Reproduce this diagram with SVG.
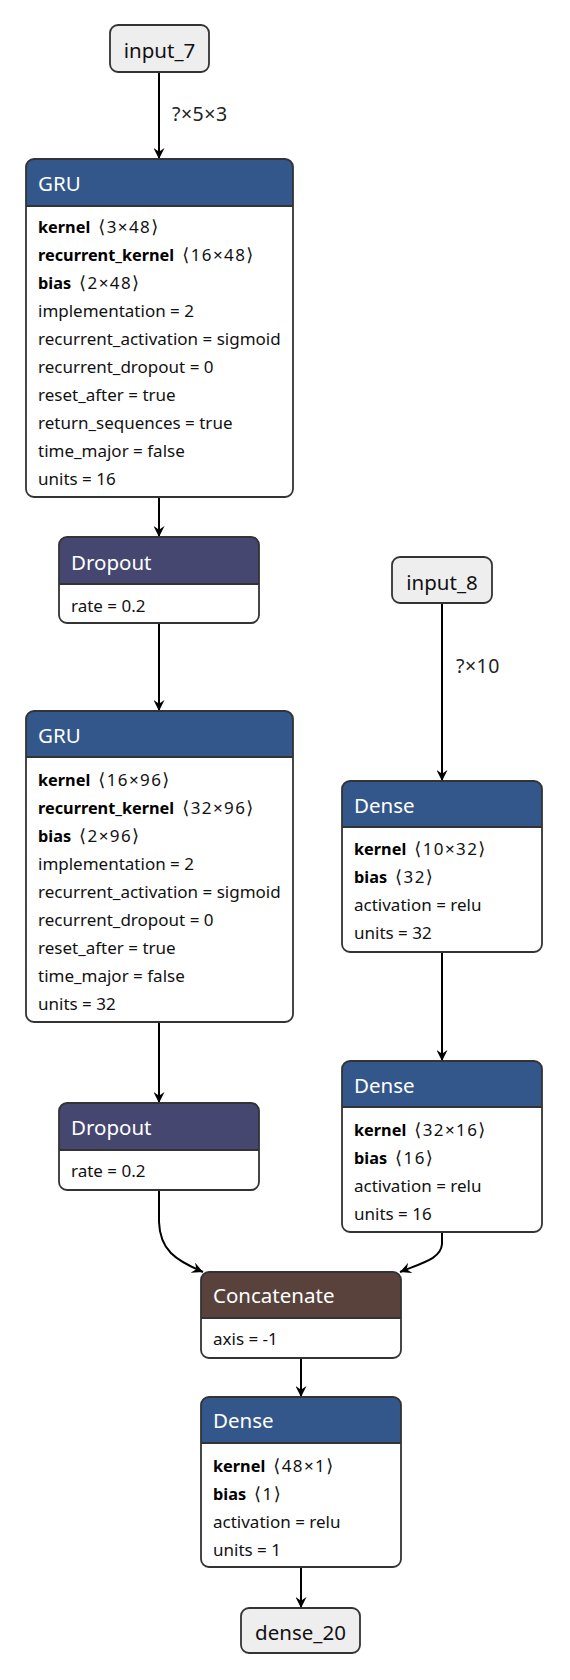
<svg xmlns="http://www.w3.org/2000/svg" width="570" height="1680" viewBox="0 0 570 1680">
<defs>
<marker id="arr" viewBox="0 0 10 10" markerUnits="userSpaceOnUse" markerWidth="11" markerHeight="11" refX="10" refY="5" orient="auto">
<path d="M0,0 L10,5 L0,10 L3.5,5 z" fill="#000"/>
</marker>
</defs>
<style>
text{font-family:"Noto Sans","Open Sans","DejaVu Sans",sans-serif}
.body{fill:#fff;stroke:none}
.outline{fill:none;stroke:#333;stroke-width:1.8}
.sep{stroke:#333;stroke-width:1.8}
.layer{fill:#33578a}
.dropout{fill:#454770}
.tensor{fill:#59423b}
.io{fill:#eeeeee;stroke:#333;stroke-width:1.8}
.title{fill:#fff;font-size:20.5px}
.iolabel{fill:#111;font-size:20.5px;text-anchor:middle}
.attr{fill:#111;font-size:17px}
.attr .n{font-weight:bold;fill:#000;font-size:16.3px}
.attr .v{letter-spacing:1.4px}
.attr .s{font-family:"DejaVu Sans",sans-serif;font-size:18px}
.edge{fill:none;stroke:#000;stroke-width:2;marker-end:url(#arr)}
.elabel{fill:#222;font-size:19.5px;letter-spacing:0.5px}
</style>

<g id="edges">
<path class="edge" d="M159,72 V159"/>
<text class="elabel" x="172" y="121">?×5×3</text>
<path class="edge" d="M159,497 V537"/>
<path class="edge" d="M159,623 V711"/>
<path class="edge" d="M159,1022 V1103"/>
<path class="edge" d="M442,603 V781"/>
<text class="elabel" x="456" y="673">?×10</text>
<path class="edge" d="M442,952 V1061"/>
<path class="edge" d="M159,1190 V1222 C160,1250 175,1260 203,1272"/>
<path class="edge" d="M442,1232 V1244 C441,1258 425,1262 400,1272"/>
<path class="edge" d="M301,1358 V1397"/>
<path class="edge" d="M301,1567 V1608"/>
</g>

<g id="input_7">
<rect class="io" x="110" y="25" width="99" height="47" rx="8"/>
<text class="iolabel" x="159.5" y="58">input_7</text>
</g>

<g id="gru_1">
<rect class="body" x="26" y="159" width="267" height="338" rx="8"/>
<path class="layer" d="M26,206 V167 Q26,159 34,159 H285 Q293,159 293,167 V206 Z"/>
<line class="sep" x1="26" y1="206" x2="293" y2="206"/>
<rect class="outline" x="26" y="159" width="267" height="338" rx="8"/>
<text class="title" x="38" y="191">GRU</text>
<text class="attr" x="38" y="233"><tspan class="n">kernel</tspan><tspan class="v" dx="8"><tspan class="s">⟨</tspan>3×48<tspan class="s">⟩</tspan></tspan></text>
<text class="attr" x="38" y="261"><tspan class="n">recurrent_kernel</tspan><tspan class="v" dx="8"><tspan class="s">⟨</tspan>16×48<tspan class="s">⟩</tspan></tspan></text>
<text class="attr" x="38" y="289"><tspan class="n">bias</tspan><tspan class="v" dx="8"><tspan class="s">⟨</tspan>2×48<tspan class="s">⟩</tspan></tspan></text>
<text class="attr" x="38" y="317">implementation = 2</text>
<text class="attr" x="38" y="345">recurrent_activation = sigmoid</text>
<text class="attr" x="38" y="373">recurrent_dropout = 0</text>
<text class="attr" x="38" y="401">reset_after = true</text>
<text class="attr" x="38" y="429">return_sequences = true</text>
<text class="attr" x="38" y="457">time_major = false</text>
<text class="attr" x="38" y="485">units = 16</text>
</g>

<g id="dropout_1">
<rect class="body" x="59" y="537" width="200" height="86" rx="8"/>
<path class="dropout" d="M59,584 V545 Q59,537 67,537 H251 Q259,537 259,545 V584 Z"/>
<line class="sep" x1="59" y1="584" x2="259" y2="584"/>
<rect class="outline" x="59" y="537" width="200" height="86" rx="8"/>
<text class="title" x="71" y="570">Dropout</text>
<text class="attr" x="71" y="612">rate = 0.2</text>
</g>

<g id="gru_2">
<rect class="body" x="26" y="711" width="267" height="311" rx="8"/>
<path class="layer" d="M26,757 V719 Q26,711 34,711 H285 Q293,711 293,719 V757 Z"/>
<line class="sep" x1="26" y1="757" x2="293" y2="757"/>
<rect class="outline" x="26" y="711" width="267" height="311" rx="8"/>
<text class="title" x="38" y="743">GRU</text>
<text class="attr" x="38" y="786"><tspan class="n">kernel</tspan><tspan class="v" dx="8"><tspan class="s">⟨</tspan>16×96<tspan class="s">⟩</tspan></tspan></text>
<text class="attr" x="38" y="814"><tspan class="n">recurrent_kernel</tspan><tspan class="v" dx="8"><tspan class="s">⟨</tspan>32×96<tspan class="s">⟩</tspan></tspan></text>
<text class="attr" x="38" y="842"><tspan class="n">bias</tspan><tspan class="v" dx="8"><tspan class="s">⟨</tspan>2×96<tspan class="s">⟩</tspan></tspan></text>
<text class="attr" x="38" y="870">implementation = 2</text>
<text class="attr" x="38" y="898">recurrent_activation = sigmoid</text>
<text class="attr" x="38" y="926">recurrent_dropout = 0</text>
<text class="attr" x="38" y="954">reset_after = true</text>
<text class="attr" x="38" y="982">time_major = false</text>
<text class="attr" x="38" y="1010">units = 32</text>
</g>

<g id="dropout_2">
<rect class="body" x="59" y="1103" width="200" height="87" rx="8"/>
<path class="dropout" d="M59,1150 V1111 Q59,1103 67,1103 H251 Q259,1103 259,1111 V1150 Z"/>
<line class="sep" x1="59" y1="1150" x2="259" y2="1150"/>
<rect class="outline" x="59" y="1103" width="200" height="87" rx="8"/>
<text class="title" x="71" y="1135">Dropout</text>
<text class="attr" x="71" y="1177">rate = 0.2</text>
</g>

<g id="input_8">
<rect class="io" x="392" y="557" width="100" height="46" rx="8"/>
<text class="iolabel" x="442" y="590">input_8</text>
</g>

<g id="dense_1">
<rect class="body" x="342" y="781" width="200" height="171" rx="8"/>
<path class="layer" d="M342,827 V789 Q342,781 350,781 H534 Q542,781 542,789 V827 Z"/>
<line class="sep" x1="342" y1="827" x2="542" y2="827"/>
<rect class="outline" x="342" y="781" width="200" height="171" rx="8"/>
<text class="title" x="354" y="813">Dense</text>
<text class="attr" x="354" y="855"><tspan class="n">kernel</tspan><tspan class="v" dx="8"><tspan class="s">⟨</tspan>10×32<tspan class="s">⟩</tspan></tspan></text>
<text class="attr" x="354" y="883"><tspan class="n">bias</tspan><tspan class="v" dx="8"><tspan class="s">⟨</tspan>32<tspan class="s">⟩</tspan></tspan></text>
<text class="attr" x="354" y="911">activation = relu</text>
<text class="attr" x="354" y="939">units = 32</text>
</g>

<g id="dense_2">
<rect class="body" x="342" y="1061" width="200" height="171" rx="8"/>
<path class="layer" d="M342,1107 V1069 Q342,1061 350,1061 H534 Q542,1061 542,1069 V1107 Z"/>
<line class="sep" x1="342" y1="1107" x2="542" y2="1107"/>
<rect class="outline" x="342" y="1061" width="200" height="171" rx="8"/>
<text class="title" x="354" y="1093">Dense</text>
<text class="attr" x="354" y="1136"><tspan class="n">kernel</tspan><tspan class="v" dx="8"><tspan class="s">⟨</tspan>32×16<tspan class="s">⟩</tspan></tspan></text>
<text class="attr" x="354" y="1164"><tspan class="n">bias</tspan><tspan class="v" dx="8"><tspan class="s">⟨</tspan>16<tspan class="s">⟩</tspan></tspan></text>
<text class="attr" x="354" y="1192">activation = relu</text>
<text class="attr" x="354" y="1220">units = 16</text>
</g>

<g id="concatenate">
<rect class="body" x="201" y="1272" width="200" height="86" rx="8"/>
<path class="tensor" d="M201,1318 V1280 Q201,1272 209,1272 H393 Q401,1272 401,1280 V1318 Z"/>
<line class="sep" x1="201" y1="1318" x2="401" y2="1318"/>
<rect class="outline" x="201" y="1272" width="200" height="86" rx="8"/>
<text class="title" x="213" y="1303">Concatenate</text>
<text class="attr" x="213" y="1345">axis = -1</text>
</g>

<g id="dense_3">
<rect class="body" x="201" y="1397" width="200" height="170" rx="8"/>
<path class="layer" d="M201,1443 V1405 Q201,1397 209,1397 H393 Q401,1397 401,1405 V1443 Z"/>
<line class="sep" x1="201" y1="1443" x2="401" y2="1443"/>
<rect class="outline" x="201" y="1397" width="200" height="170" rx="8"/>
<text class="title" x="213" y="1428">Dense</text>
<text class="attr" x="213" y="1472"><tspan class="n">kernel</tspan><tspan class="v" dx="8"><tspan class="s">⟨</tspan>48×1<tspan class="s">⟩</tspan></tspan></text>
<text class="attr" x="213" y="1500"><tspan class="n">bias</tspan><tspan class="v" dx="8"><tspan class="s">⟨</tspan>1<tspan class="s">⟩</tspan></tspan></text>
<text class="attr" x="213" y="1528">activation = relu</text>
<text class="attr" x="213" y="1556">units = 1</text>
</g>

<g id="dense_20">
<rect class="io" x="241" y="1608" width="119" height="45" rx="8"/>
<text class="iolabel" x="300.5" y="1640">dense_20</text>
</g>
</svg>
